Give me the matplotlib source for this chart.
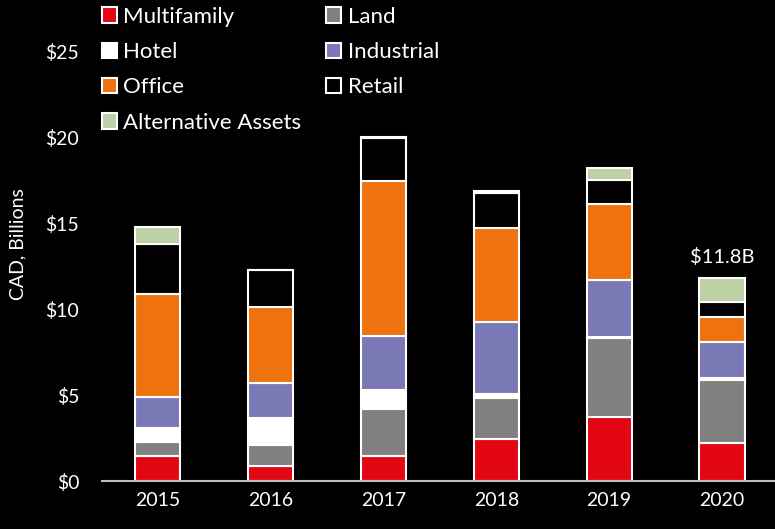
import numpy as np
import matplotlib.pyplot as plt
from matplotlib.patches import Patch

plt.rcParams['font.family'] = ['Lato', 'DejaVu Sans']

years = ["2015", "2016", "2017", "2018", "2019", "2020"]
multifamily = [1.47, 0.85, 1.45, 2.44, 3.74, 2.23]
land = [0.78, 1.24, 2.75, 2.40, 4.56, 3.64]
hotel = [0.81, 1.56, 1.09, 0.20, 0.10, 0.10]
industrial = [1.81, 2.05, 3.14, 4.19, 3.30, 2.13]
office = [6.03, 4.43, 9.01, 5.50, 4.40, 1.45]
retail = [2.90, 2.14, 2.48, 2.00, 1.41, 0.87]
alternative = [0.95, 0.00, 0.08, 0.15, 0.72, 1.40]

series = [
    ("Multifamily", multifamily, "#E30613"),
    ("Land", land, "#808080"),
    ("Hotel", hotel, "#FFFFFF"),
    ("Industrial", industrial, "#7B78B6"),
    ("Office", office, "#EE730E"),
    ("Retail", retail, "#000000"),
    ("Alternative Assets", alternative, "#BDD0A6"),
]

fig = plt.figure(figsize=(7.75, 5.29), dpi=100, facecolor="black")
ax = fig.add_axes([0.131, 0.0907, 0.869, 0.894], facecolor="black")

x = np.arange(len(years))
bottom = np.zeros(len(years))
for name, vals, color in series:
    vals = np.array(vals)
    ax.bar(x, vals, bottom=bottom, width=0.4, color=color,
           edgecolor="white", linewidth=1.5, label=name)
    bottom += vals

# total label for last year
ax.text(x[-1], bottom[-1] + 0.7, "$11.8B", color="white", fontsize=14.5,
        ha="center", va="bottom")

ax.set_xlim(-0.5, 5.47)
ax.set_ylim(0, 27.5)
ax.set_yticks([0, 5, 10, 15, 20, 25])
ax.set_yticklabels(["$0", "$5", "$10", "$15", "$20", "$25"])
ax.set_xticks(x)
ax.set_xticklabels(years)
ax.tick_params(colors="white", labelsize=14, length=0)
ax.tick_params(axis="y", pad=16)
ax.tick_params(axis="x", pad=8)
for s in ["top", "right", "left"]:
    ax.spines[s].set_visible(False)
ax.spines["bottom"].set_color("#BFBFBF")
ax.spines["bottom"].set_linewidth(1.5)
ax.set_ylabel("CAD, Billions", color="white", fontsize=14, labelpad=14)

# legend: column-first order
order = [0, 2, 4, 6, 1, 3, 5]
handles = [Patch(facecolor=series[i][2], edgecolor="white", linewidth=1.5)
           for i in order]
labels = [series[i][0] for i in order]
leg = ax.legend(handles, labels, ncol=2, loc="upper left",
                bbox_to_anchor=(0.0, 1.003), frameon=False, fontsize=16,
                labelcolor="white", handlelength=0.68, handleheight=0.68,
                handletextpad=0.3, labelspacing=0.69, columnspacing=1.1,
                borderpad=0, borderaxespad=0)

fig.savefig("out.png", dpi=100, facecolor="black")
